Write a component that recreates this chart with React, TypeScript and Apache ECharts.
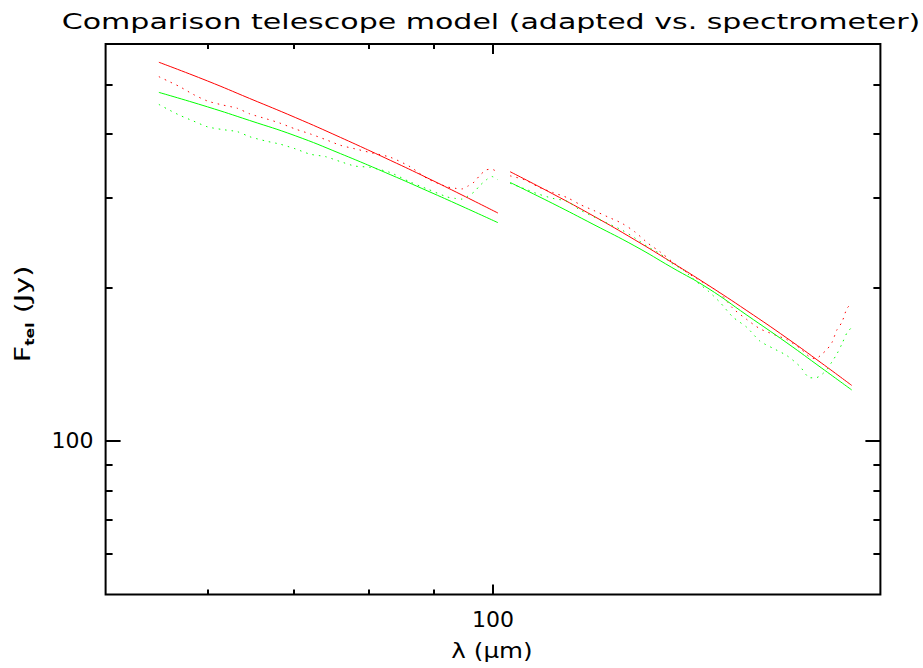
import React, { useEffect, useRef } from "react";
import * as echarts from "echarts";

const FONT = '"DejaVu Sans", "Noto Sans", sans-serif';

const TITLE = "Comparison telescope model (adapted vs. spectrometer)";
const X_NAME = "λ (μm)";
const Y_NAME_MAIN = "F";
const Y_NAME_SUB = "tel";
const Y_NAME_UNIT = " (Jy)";

const X_MIN = 50;
const X_MAX = 200;
const Y_MIN = 50;
const Y_MAX = 600;
const xMinorTicks = [60, 70, 80, 90];
const xMajorTicks = [100];
const yMinorTicks = [60, 70, 80, 90, 200, 300, 400, 500];
const yMajorTicks = [100];

// Segment A (short-wavelength part)
const wlModelA = [55.0, 60.0, 64.7, 70.2, 76.1, 83.2, 88.9, 94.6, 100.9];
const redModelA = [552.8, 508.0, 469.4, 430.8, 393.8, 355.1, 328.0, 303.6, 279.8];
const greenModelA = [482.5, 452.0, 425.0, 396.7, 366.0, 332.9, 309.4, 288.5, 267.9];

const wlSpecA = [
  55.0, 55.8, 57.1, 58.5, 60.0, 61.6, 63.3, 64.7, 66.7, 68.3, 70.2, 72.1, 74.1, 76.1,
  78.1, 80.2, 83.2, 86.2, 88.9, 92.1, 93.4, 94.6, 95.6, 96.7, 97.7, 98.8, 99.8, 100.9,
];
const redSpecA = [
  518, 509, 495, 478, 464, 456, 449, 438, 428, 420, 409, 400, 390, 380,
  374, 368, 360, 345, 327, 315, 313, 312, 316, 322, 332, 340, 341, 336,
];
const greenSpecA = [
  457, 448, 435, 424, 413, 408, 404, 395, 387, 382, 374, 365, 361, 353,
  346, 344, 336, 322, 312, 301, 299, 298, 302, 308, 317, 325, 330, 325,
];

// Segment B (long-wavelength part)
const wlModelB = [103.1, 111.3, 119.8, 128.9, 137.7, 146.9, 157.5, 169.2, 180.1, 190.0];
const redModelB = [337.3, 305.1, 275.8, 247.9, 224.0, 202.2, 180.1, 159.1, 142.0, 128.5];
const greenModelB = [321.3, 292.1, 265.5, 241.1, 218.9, 199.3, 176.5, 155.7, 138.9, 125.9];

const wlSpecB = [
  103.1, 105.9, 108.4, 111.3, 114.2, 116.8, 119.8, 122.8, 126.0, 128.9, 132.0, 134.8,
  137.7, 140.7, 144.0, 146.9, 150.1, 153.6, 157.5, 161.2, 165.0, 169.2, 173.2, 176.3,
  178.2, 180.1, 181.7, 183.4, 185.0, 186.7, 188.4, 190.0,
];
const redSpecB = [
  331, 325, 315, 307, 300, 291, 283, 275, 267, 257, 244, 235,
  225, 216, 208, 202, 195, 182, 173, 166, 162, 158, 152, 146,
  145, 148, 151, 156, 165, 171, 182, 186,
];
const greenSpecB = [
  320, 312, 305, 299, 295, 284, 275, 267, 259, 250, 240, 233,
  223, 216, 205, 197, 187, 175, 167, 157, 152, 147, 140, 133,
  133, 135, 138, 143, 148, 155, 163, 167,
];

const RED = "#ff0000";
const GREEN = "#00ff00";

const lg = (v: number) => Math.log10(v);

function pairs(xs: number[], ys: number[]) {
  return xs.map((x, i) => [x, ys[i]]);
}

function lineSeries(name: string, xs: number[], ys: number[], color: string, dotted: boolean) {
  return {
    type: "line",
    name,
    xAxisIndex: 0,
    yAxisIndex: 0,
    data: pairs(xs, ys),
    symbol: "none",
    showSymbol: false,
    silent: true,
    smooth: dotted ? 0.25 : 0.5,
    lineStyle: { color, width: 1, type: dotted ? [1.5, 5] : "solid" },
  };
}

function tickAxis(
  kind: "x" | "y",
  position: string,
  ticks: number[],
  len: number,
  withLabel: boolean
) {
  const min = kind === "x" ? lg(X_MIN) : lg(Y_MIN);
  const max = kind === "x" ? lg(X_MAX) : lg(Y_MAX);
  const vals = ticks.map(lg);
  return {
    type: "value",
    position,
    min,
    max,
    axisLine: { show: false, onZero: false },
    axisTick: {
      show: true,
      inside: true,
      length: len,
      customValues: vals,
      lineStyle: { color: "#000", width: 2 },
    },
    axisLabel: withLabel
      ? {
          show: true,
          customValues: vals,
          formatter: (v: number) => String(Math.round(Math.pow(10, v))),
          fontSize: 22,
          fontFamily: FONT,
          color: "#000",
          margin: kind === "x" ? 14 : 12,
        }
      : { show: false },
    splitLine: { show: false },
    minorTick: { show: false },
    minorSplitLine: { show: false },
  };
}

function mainAxis(position: string, min: number, max: number) {
  return {
    type: "log",
    logBase: 10,
    position,
    min,
    max,
    axisLine: { show: false, onZero: false },
    axisTick: { show: false },
    axisLabel: { show: false },
    splitLine: { show: false },
    minorTick: { show: false },
    minorSplitLine: { show: false },
  };
}

export default function App() {
  const ref = useRef<HTMLDivElement>(null);

  useEffect(() => {
    if (!ref.current) return;
    const chart = echarts.init(ref.current, null, { renderer: "svg" });
    const option: any = {
      animation: false,
      backgroundColor: "#fff",
      grid: {
        left: 105.6,
        right: 42.6,
        top: 44.1,
        bottom: 73.5,
        show: true,
        borderColor: "#000",
        borderWidth: 2,
        backgroundColor: "transparent",
        containLabel: false,
      },
      xAxis: [
        mainAxis("bottom", X_MIN, X_MAX),
        tickAxis("x", "bottom", xMinorTicks, 5, false),
        tickAxis("x", "bottom", xMajorTicks, 10, true),
        tickAxis("x", "top", xMinorTicks, 5, false),
        tickAxis("x", "top", xMajorTicks, 10, false),
      ],
      yAxis: [
        mainAxis("left", Y_MIN, Y_MAX),
        tickAxis("y", "left", yMinorTicks, 7, false),
        tickAxis("y", "left", yMajorTicks, 15, true),
        tickAxis("y", "right", yMinorTicks, 7, false),
        tickAxis("y", "right", yMajorTicks, 15, false),
      ],
      series: [
        lineSeries("Model (red), part 1", wlModelA, redModelA, RED, false),
        lineSeries("Model (red), part 2", wlModelB, redModelB, RED, false),
        lineSeries("Spectrometer (red), part 1", wlSpecA, redSpecA, RED, true),
        lineSeries("Spectrometer (red), part 2", wlSpecB, redSpecB, RED, true),
        lineSeries("Model (green), part 1", wlModelA, greenModelA, GREEN, false),
        lineSeries("Model (green), part 2", wlModelB, greenModelB, GREEN, false),
        lineSeries("Spectrometer (green), part 1", wlSpecA, greenSpecA, GREEN, true),
        lineSeries("Spectrometer (green), part 2", wlSpecB, greenSpecB, GREEN, true),
      ],
      graphic: [
        {
          type: "text",
          x: 491,
          y: 21.5,
          scaleX: 1.43,
          silent: true,
          style: {
            text: TITLE,
            fontSize: 21,
            fontFamily: FONT,
            fill: "#000",
            align: "center",
            verticalAlign: "middle",
          },
        },
        {
          type: "text",
          x: 492,
          y: 650,
          scaleX: 1.12,
          silent: true,
          style: {
            text: X_NAME,
            fontSize: 22,
            fontFamily: FONT,
            fill: "#000",
            align: "center",
            verticalAlign: "middle",
          },
        },
        {
          type: "text",
          x: 22.5,
          y: 314,
          rotation: Math.PI / 2,
          scaleX: 1.3,
          silent: true,
          style: {
            text: `{a|${Y_NAME_MAIN}}{s|${Y_NAME_SUB}}{a|${Y_NAME_UNIT}}`,
            fill: "#000",
            align: "center",
            verticalAlign: "middle",
            rich: {
              a: { fontSize: 22, fontFamily: FONT, fill: "#000", lineHeight: 26 },
              s: {
                fontSize: 12,
                fontFamily: FONT,
                fontWeight: "bold",
                fill: "#000",
                lineHeight: 8,
                verticalAlign: "bottom",
              },
            },
          },
        },
      ],
    };
    chart.setOption(option);
    return () => chart.dispose();
  }, []);

  return (
    <div
      ref={ref}
      style={{ position: "fixed", left: 0, top: 0, width: 923, height: 668, background: "#fff" }}
    />
  );
}
